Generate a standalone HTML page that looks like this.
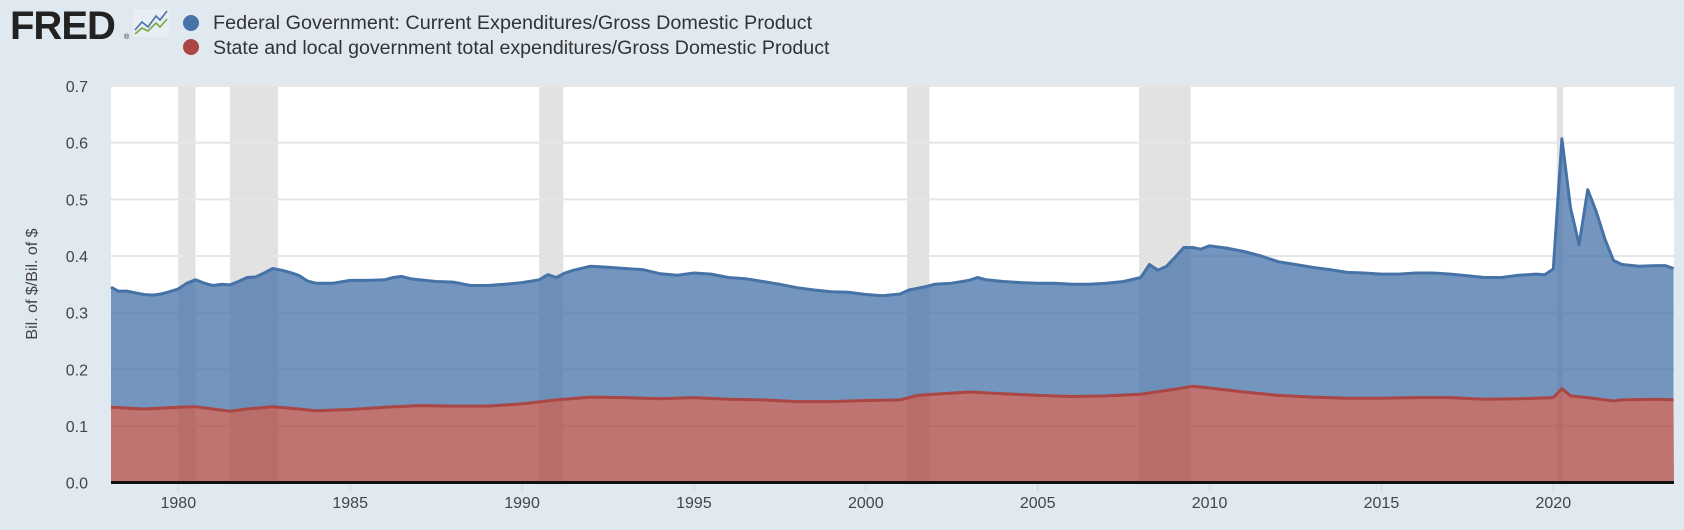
<!DOCTYPE html>
<html><head><meta charset="utf-8"><style>
body{margin:0;width:1684px;height:530px;background:#e1e9f0;overflow:hidden;font-family:"Liberation Sans",sans-serif}
</style></head><body>
<svg id="s" width="1684" height="530" xmlns="http://www.w3.org/2000/svg" style="position:absolute;left:0;top:0">
<text x="10" y="39" font-family="Liberation Sans" font-weight="bold" font-size="40" fill="#222" letter-spacing="-1">FRED</text>
<text x="124" y="39" font-size="7" fill="#222">®</text>
<rect x="133" y="9" width="36" height="28" fill="#e8eef3"/>
<polyline points="135,30 142,22 148,27 156,16 160,20 167,11" fill="none" stroke="#4572a7" stroke-width="1.6"/>
<polyline points="135,34 142,28 148,31 156,23 160,27 167,19" fill="none" stroke="#7aa83c" stroke-width="1.6"/>
<circle cx="191" cy="23" r="8" fill="#4572a7"/>
<circle cx="191" cy="47" r="8" fill="#aa4643"/>
<text x="213" y="29" font-size="19.8" fill="#333">Federal Government: Current Expenditures/Gross Domestic Product</text>
<text x="213" y="54" font-size="19.6" fill="#333">State and local government total expenditures/Gross Domestic Product</text>
<rect x="111" y="86" width="1563" height="397" fill="#fff"/>
<g id="rec"></g>
<g id="grid"></g>
<g id="series"></g>
<rect x="111" y="481" width="1563" height="3" fill="#111"/>
<g id="ticks" font-size="16" fill="#444"></g>
<text transform="translate(37,284) rotate(-90)" text-anchor="middle" font-size="16" fill="#444">Bil. of $/Bil. of $</text>
</svg>
<script>
const X=t=>178.3+(t-1980)*34.375, Y=v=>482.6-v*566.5;
const ns="http://www.w3.org/2000/svg";
function el(p,tag,a,txt){const e=document.createElementNS(ns,tag);for(const k in a)e.setAttribute(k,a[k]);if(txt)e.textContent=txt;document.getElementById(p).appendChild(e);return e;}
[[1980,1980.5],[1981.5,1982.9],[1990.5,1991.2],[2001.2,2001.85],[2007.95,2009.45],[2020.1,2020.28]].forEach(r=>el("rec","rect",{x:X(r[0]),y:86,width:X(r[1])-X(r[0]),height:397,fill:"#e2e2e2"}));
for(let i=1;i<=7;i++){el("grid","line",{x1:111,x2:1674,y1:Y(i/10),y2:Y(i/10),stroke:"#e6e6e6","stroke-width":2});}
for(let i=0;i<=7;i++)el("ticks","text",{x:88,y:Y(i/10)+6,"text-anchor":"end"},(i/10).toFixed(1));
for(let yr=1980;yr<=2020;yr+=5){el("ticks","line",{x1:X(yr),x2:X(yr),y1:484,y2:492,stroke:"#ccd6eb"});el("ticks","text",{x:X(yr),y:508,"text-anchor":"middle"},String(yr));}
const F=[[1978,.345],[1978.25,.338],[1978.5,.338],[1978.75,.335],[1979,.332],[1979.25,.331],[1979.5,.333],[1979.75,.337],[1980,.342],[1980.25,.352],[1980.5,.358],[1980.75,.352],[1981,.348],[1981.25,.350],[1981.5,.349],[1981.75,.355],[1982,.362],[1982.25,.363],[1982.5,.370],[1982.75,.378],[1983,.375],[1983.25,.371],[1983.5,.366],[1983.75,.356],[1984,.352],[1984.5,.352],[1985,.357],[1985.5,.357],[1986,.358],[1986.25,.362],[1986.5,.364],[1986.75,.360],[1987,.358],[1987.5,.355],[1988,.354],[1988.5,.348],[1989,.348],[1989.5,.350],[1990,.353],[1990.5,.358],[1990.75,.367],[1991,.362],[1991.25,.370],[1991.5,.375],[1992,.382],[1992.5,.380],[1993,.378],[1993.5,.376],[1994,.369],[1994.5,.366],[1995,.370],[1995.5,.368],[1996,.362],[1996.5,.360],[1997,.355],[1997.5,.350],[1998,.344],[1998.5,.340],[1999,.337],[1999.5,.336],[2000,.332],[2000.5,.330],[2001,.333],[2001.25,.340],[2001.5,.343],[2001.75,.346],[2002,.350],[2002.5,.352],[2003,.357],[2003.25,.362],[2003.5,.358],[2004,.355],[2004.5,.353],[2005,.352],[2005.5,.352],[2006,.350],[2006.5,.350],[2007,.352],[2007.5,.355],[2008,.362],[2008.25,.385],[2008.5,.375],[2008.75,.382],[2009,.398],[2009.25,.415],[2009.5,.415],[2009.75,.412],[2010,.418],[2010.5,.414],[2011,.408],[2011.5,.400],[2012,.390],[2012.5,.385],[2013,.380],[2013.5,.376],[2014,.371],[2014.5,.370],[2015,.368],[2015.5,.368],[2016,.370],[2016.5,.370],[2017,.368],[2017.5,.365],[2018,.362],[2018.5,.362],[2019,.366],[2019.5,.368],[2019.75,.367],[2020,.377],[2020.25,.607],[2020.5,.485],[2020.75,.420],[2021,.517],[2021.25,.478],[2021.5,.430],[2021.75,.392],[2022,.385],[2022.5,.382],[2023,.383],[2023.25,.383],[2023.5,.378]];
const S=[[1978,.133],[1979,.130],[1980,.133],[1980.5,.134],[1981,.130],[1981.5,.126],[1982,.130],[1982.75,.134],[1983.5,.130],[1984,.127],[1985,.129],[1986,.133],[1987,.136],[1988,.135],[1989,.135],[1990,.139],[1991,.146],[1992,.151],[1993,.150],[1994,.148],[1995,.150],[1996,.147],[1997,.146],[1998,.143],[1999,.143],[2000,.145],[2001,.146],[2001.5,.154],[2002,.156],[2003,.160],[2004,.157],[2005,.154],[2006,.152],[2007,.153],[2008,.156],[2009,.165],[2009.5,.170],[2010,.167],[2011,.160],[2012,.154],[2013,.151],[2014,.149],[2015,.149],[2016,.150],[2017,.150],[2018,.147],[2019,.148],[2020,.150],[2020.25,.166],[2020.5,.153],[2021,.150],[2021.75,.144],[2022,.146],[2023,.147],[2023.5,.146]];
const cx=x=>Math.min(1674,Math.max(111,x));
const pts=d=>d.map(p=>cx(X(p[0])).toFixed(1)+","+Y(p[1]).toFixed(1));
const fp=pts(F), sp=pts(S);
el("series","polygon",{points:fp.join(" ")+" "+sp.slice().reverse().join(" "),fill:"#4572a7","fill-opacity":0.75});
el("series","polygon",{points:sp.join(" ")+" 1674,482.6 111,482.6",fill:"#aa4643","fill-opacity":0.75});
el("series","polyline",{points:fp.join(" "),fill:"none",stroke:"#4572a7","stroke-width":3,"stroke-linejoin":"round"});
el("series","polyline",{points:sp.join(" "),fill:"none",stroke:"#aa4643","stroke-width":3,"stroke-linejoin":"round"});
</script>
</body></html>
